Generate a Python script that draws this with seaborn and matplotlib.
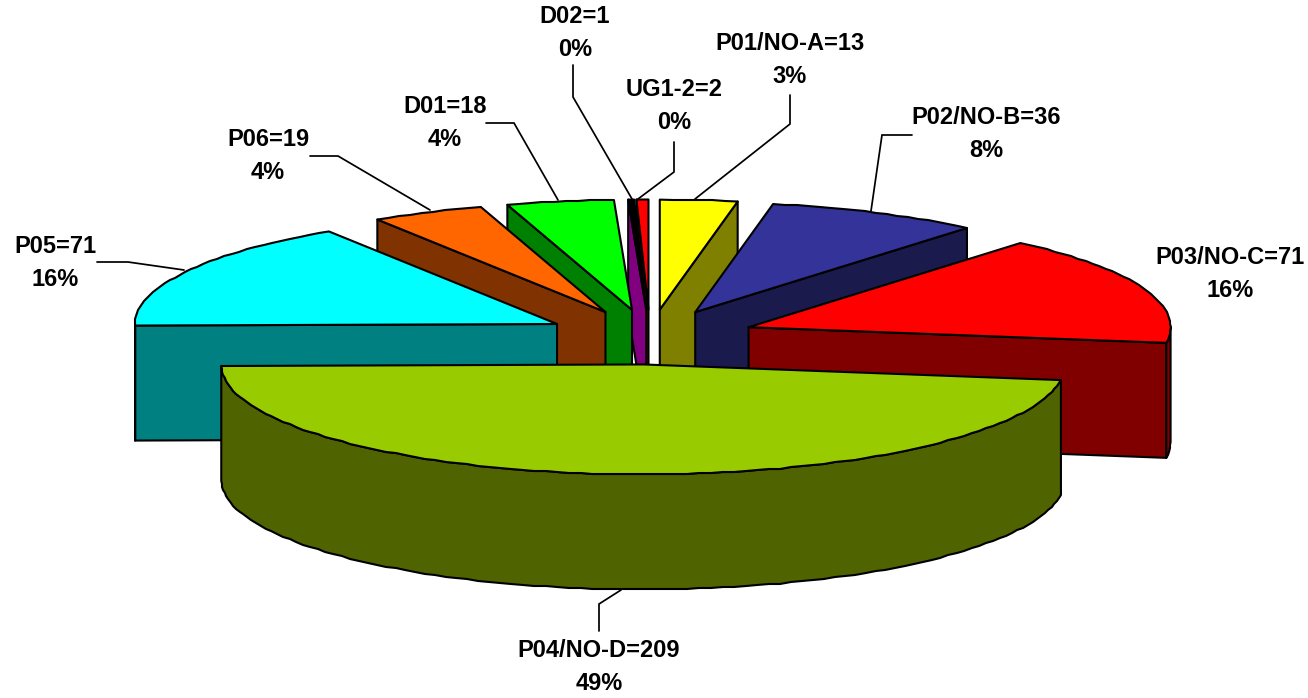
import numpy as np
import matplotlib
matplotlib.use("Agg")
import matplotlib.pyplot as plt
import seaborn as sns

# Data, clockwise from 12 o'clock
names = ["P01/NO-A", "P02/NO-B", "P03/NO-C", "P04/NO-D", "P05", "P06", "D01", "D02", "UG1-2"]
values = [13, 36, 71, 209, 71, 19, 18, 1, 2]
percents = [3, 8, 16, 49, 16, 4, 4, 0, 0]
top_colors = ["#FFFF00", "#333399", "#FF0000", "#99CC00", "#00FFFF", "#FF6600", "#00FF00", "#000000", "#FF0000"]
side_colors = ["#808000", "#1A1A4D", "#800000", "#4F6300", "#008080", "#803300", "#008000", "#800080", "#800000"]

# Layout
CX, CY = 650, 337          # pie centre (px)
RX, RY = 422, 110          # ellipse radii
DEPTH = 115                # extrusion
EXPLODE = 0.25
LW = 1.5
label_centers = [(790, 60), (986, 134), (1230, 274), (599, 667), (55, 263),
                 (268, 156), (445, 123), (575, 33), (674, 106)]
leaders = [
    [(790, 95), (790, 124), (695, 199)],
    [(912, 135), (882, 135), (871, 211)],
    [],
    [(599, 631), (599, 604), (621, 590)],
    [(97, 262), (128, 262), (184, 270)],
    [(310, 156), (338, 156), (430, 210)],
    [(486, 123), (514, 123), (558, 200)],
    [(573, 65), (573, 97), (632, 199)],
    [(674, 142), (674, 172), (638, 199)],
]

sns.set_theme(style="white")
plt.rcParams["font.family"] = ["Liberation Sans", "DejaVu Sans"]
palette = sns.color_palette(top_colors, n_colors=len(top_colors))
side_palette = sns.color_palette(side_colors, n_colors=len(side_colors))

fig = plt.figure(figsize=(13.08, 6.98), dpi=100, facecolor="white")
ax = fig.add_axes([0, 0, 1, 1])
ax.set_xlim(0, 1308)
ax.set_ylim(698, 0)
ax.axis("off")

vals = np.asarray(values, float)
edges = np.concatenate([[0], np.cumsum(vals)]) / vals.sum() * 2 * np.pi


def arc(a, b, ox, oy):
    """Rim polyline, snapped to whole pixels for the slightly stepped source look."""
    n = max(2, int((b - a) / np.radians(1.6)) + 1)
    t = np.linspace(a, b, n)
    x = np.round(ox + RX * np.sin(t))
    y = np.round(oy - RY * np.cos(t))
    x[0], y[0] = ox + RX * np.sin(a), oy - RY * np.cos(a)
    x[-1], y[-1] = ox + RX * np.sin(b), oy - RY * np.cos(b)
    return x, y


style = dict(edgecolor="black", linewidth=LW, joinstyle="round", closed=True)
order = sorted(range(len(vals)), key=lambda i: -np.cos((edges[i] + edges[i + 1]) / 2))

for i in order:
    a, b = edges[i], edges[i + 1]
    m = (a + b) / 2
    ox = CX + EXPLODE * RX * np.sin(m)
    oy = CY - EXPLODE * RY * np.cos(m)
    side = side_palette[i]

    # radial faces that look toward the viewer
    for t, visible in ((a, np.sin(a) < 0), (b, np.sin(b) > 0)):
        if visible:
            rx, ry = ox + RX * np.sin(t), oy - RY * np.cos(t)
            ax.fill([ox, rx, rx, ox], [oy, ry, ry + DEPTH, oy + DEPTH], facecolor=side, **style)

    # outer wall: front half of the rim only
    lo, hi = max(a, np.pi / 2), min(b, 3 * np.pi / 2)
    if hi > lo:
        x, y = arc(lo, hi, ox, oy)
        ax.fill(np.r_[x, x[::-1]], np.r_[y, y[::-1] + DEPTH], facecolor=side, **style)

    # top
    x, y = arc(a, b, ox, oy)
    ax.fill(np.r_[ox, x], np.r_[oy, y], facecolor=palette[i], **style)

for pts in leaders:
    if pts:
        px, py = zip(*pts)
        ax.plot(px, py, color="black", lw=1.25, solid_joinstyle="miter")

for name, v, p, (lx, ly) in zip(names, values, percents, label_centers):
    ax.text(lx, ly, f"{name}={v}\n{p}%", ha="center", va="center", ma="center",
            fontsize=17, fontweight="bold", color="black", linespacing=1.55)

fig.savefig("out.png", dpi=100, facecolor="white")
